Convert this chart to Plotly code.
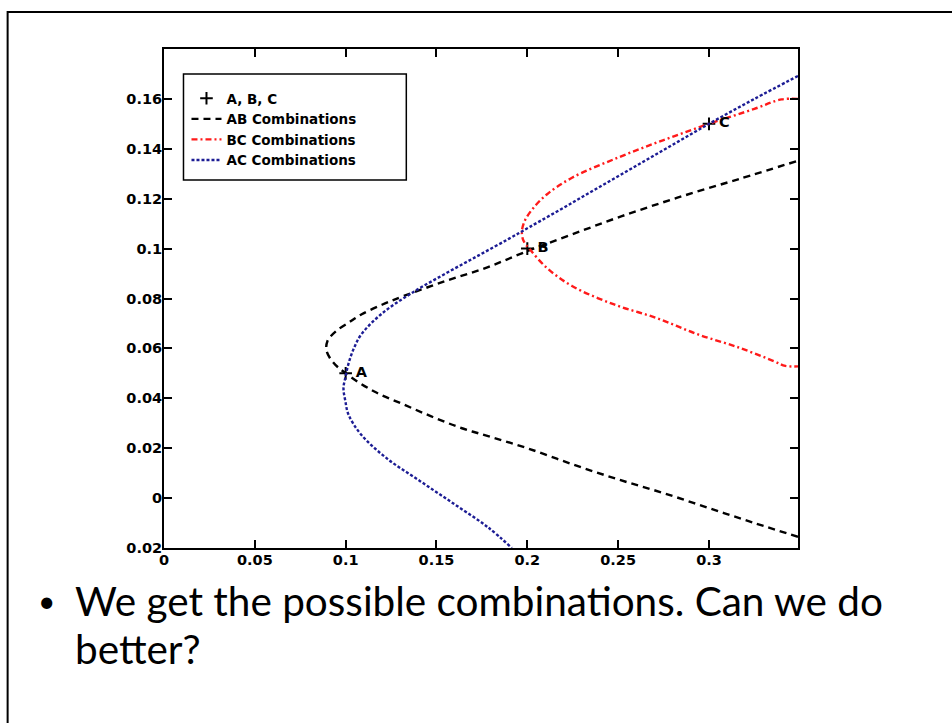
import plotly.graph_objects as go

# ---- data ----
point_x = [0.1, 0.2, 0.3]
point_y = [0.05, 0.10, 0.15]
point_labels = ["A", "B", "C"]

ab_x = [0.349, 0.325, 0.300, 0.275, 0.250, 0.225, 0.200, 0.180, 0.164, 0.148, 0.132, 0.1155, 0.100,
        0.093, 0.0895, 0.0900, 0.0947, 0.1020, 0.1086, 0.120, 0.132, 0.155, 0.178, 0.200,
        0.2246, 0.252, 0.2826, 0.317, 0.349]
ab_y = [-0.0155, -0.0100, -0.0040, 0.0020, 0.0075, 0.0135, 0.0200, 0.0245, 0.0280, 0.0325, 0.0375, 0.0428,
        0.0500, 0.0545, 0.0590, 0.0630, 0.0669, 0.0705, 0.0736, 0.0775, 0.0810, 0.0870, 0.0925, 0.0990,
        0.1057, 0.1130, 0.1204, 0.1280, 0.1352]

bc_x = [0.349, 0.340, 0.325, 0.300, 0.275, 0.250, 0.2246, 0.2107, 0.2030, 0.1985, 0.1970, 0.1980,
        0.2014, 0.2107, 0.2246, 0.2478, 0.271, 0.294, 0.317, 0.336, 0.342, 0.349]
bc_y = [0.1600, 0.1598, 0.1560, 0.1500, 0.1435, 0.1365, 0.1284, 0.1217, 0.1160, 0.1110, 0.1065, 0.1030,
        0.0997, 0.0923, 0.0850, 0.0776, 0.0722, 0.0656, 0.0602, 0.0548, 0.0530, 0.0528]

ac_x = [0.349, 0.325, 0.300, 0.275, 0.250, 0.225, 0.2014, 0.190, 0.1735, 0.155, 0.1364, 0.120,
        0.1086, 0.1045, 0.1016, 0.0998, 0.0988, 0.0998, 0.1016, 0.1086, 0.1225, 0.141, 0.160, 0.178, 0.1915]
ac_y = [0.1692, 0.1600, 0.1500, 0.1395, 0.1290, 0.1185, 0.1087, 0.1040, 0.0974, 0.0900, 0.0822, 0.0740,
        0.0656, 0.0600, 0.0540, 0.0482, 0.0441, 0.0390, 0.0334, 0.0254, 0.0160, 0.0068, -0.0025, -0.0115, -0.0200]

x_ticks = [0, 0.05, 0.1, 0.15, 0.2, 0.25, 0.3]
x_tick_text = ["0", "0.05", "0.1", "0.15", "0.2", "0.25", "0.3"]
y_ticks = [-0.02, 0, 0.02, 0.04, 0.06, 0.08, 0.1, 0.12, 0.14, 0.16]
y_tick_text = ["0.02", "0", "0.02", "0.04", "0.06", "0.08", "0.1", "0.12", "0.14", "0.16"]

bullet_line1 = "We get the possible combinations. Can we do"
bullet_line2 = "better?"

# ---- figure ----
W, H = 952, 723
L, R, T, B = 163.5, 154, 49, 175
PW, PH = W - L - R, H - T - B

def px(x):
    return (x - L) / PW

def py(y):
    return (H - B - y) / PH

mat_font = "DejaVu Sans, Liberation Sans, Arial, sans-serif"
tick_font = dict(family=mat_font, size=14.5, color="black", weight="bold")

fig = go.Figure()
fig.add_trace(go.Scatter(x=point_x, y=point_y, mode="markers", name="A, B, C",
                         marker=dict(symbol="cross-thin", size=9, line=dict(width=2, color="black"), color="black")))
fig.add_trace(go.Scatter(x=ab_x, y=ab_y, mode="lines", name="AB Combinations", line_shape="spline",
                         line=dict(color="black", width=2.4, dash="7px,5px")))
fig.add_trace(go.Scatter(x=bc_x, y=bc_y, mode="lines", name="BC Combinations", line_shape="spline",
                         line=dict(color="#ff1a1a", width=2.4, dash="6px,3px,2px,3px")))
fig.add_trace(go.Scatter(x=ac_x, y=ac_y, mode="lines", name="AC Combinations", line_shape="spline",
                         line=dict(color="#1c1c94", width=2.4, dash="3px,2px")))
fig.add_trace(go.Scatter(x=point_x, y=point_y, mode="text", text=["  " + t for t in point_labels],
                         textposition="middle right", showlegend=False, hoverinfo="skip",
                         textfont=dict(family=mat_font, size=14.5, color="black", weight="bold")))

axis_common = dict(showline=True, linecolor="black", linewidth=2, mirror="ticks", ticks="inside",
                   ticklen=8, tickwidth=2, tickcolor="black", showgrid=False, zeroline=False,
                   tickfont=tick_font)
fig.update_xaxes(range=[0, 0.349], tickvals=x_ticks, ticktext=x_tick_text, ticklabelstandoff=-2, **axis_common)
fig.update_yaxes(range=[-0.02, 0.18], tickvals=y_ticks, ticktext=y_tick_text, ticklabelstandoff=-3, **axis_common)

text_font = dict(family="Lato, 'Open Sans', sans-serif", size=40.5, color="black")
fig.update_layout(
    width=W, height=H,
    margin=dict(l=L, r=R, t=T, b=B, autoexpand=False),
    paper_bgcolor="white", plot_bgcolor="white",
    showlegend=True,
    legend=dict(x=px(186), y=py(83), xanchor="left", yanchor="top",
                borderwidth=0, bgcolor="rgba(0,0,0,0)",
                font=dict(family=mat_font, size=13.5, color="black", weight="bold"),
                tracegroupgap=0, itemwidth=30),
    shapes=[
        dict(type="rect", xref="paper", yref="paper", x0=px(7), y0=py(760), x1=px(990), y1=py(12),
             line=dict(color="black", width=2), layer="below"),
        dict(type="rect", xref="paper", yref="paper", x0=px(183), y0=py(180), x1=px(406), y1=py(74),
             line=dict(color="black", width=1.5), fillcolor="white", layer="above"),
    ],
    annotations=[
        dict(text="•", xref="paper", yref="paper", x=px(46), y=py(600), xanchor="center", yanchor="middle",
             showarrow=False, font=dict(family="Lato, sans-serif", size=30, color="black")),
        dict(text=bullet_line1, xref="paper", yref="paper", x=px(72), y=py(600), xanchor="left", yanchor="middle",
             showarrow=False, font=text_font),
        dict(text=bullet_line2, xref="paper", yref="paper", x=px(72), y=py(648), xanchor="left", yanchor="middle",
             showarrow=False, font=text_font),
    ],
)

fig.write_html("out.html", config={"displayModeBar": False},
               post_script="document.body.style.margin='0px';")
